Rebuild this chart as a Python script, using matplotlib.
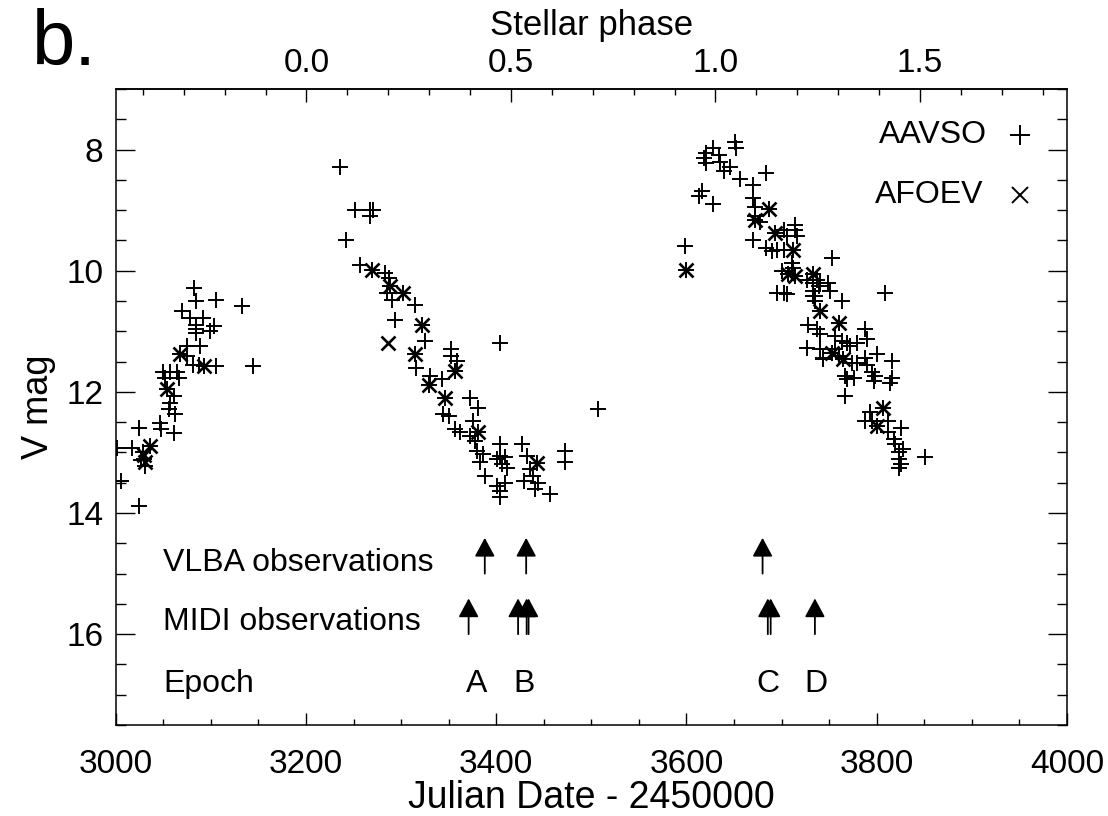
import matplotlib
matplotlib.use("Agg")
import matplotlib.pyplot as plt
from matplotlib.ticker import MultipleLocator, FixedLocator
import numpy as np

plt.rcParams['font.family'] = ['Liberation Sans', 'DejaVu Sans']

# Visual photometry (Julian Date - 2450000, V magnitude)
aavso_jd = [
    3001, 3017, 3006, 3025, 3025, 3029, 3030, 3031, 3027, 3036, 3047, 3048, 3061,
    3050, 3057, 3064, 3052, 3067, 3054, 3061, 3057, 3056, 3062, 3068, 3075, 3081,
    3088, 3075, 3089, 3070, 3078, 3092, 3084, 3084, 3084, 3103, 3099, 3082, 3084,
    3105, 3133, 3105, 3144, 3093,
    3236, 3252, 3267, 3271, 3267, 3242, 3257, 3269, 3283, 3287, 3288, 3285, 3302,
    3290, 3315, 3294, 3322, 3325, 3404, 3353, 3359, 3353, 3315, 3316, 3357, 3330,
    3343, 3329, 3346, 3372, 3381, 3344, 3350, 3376, 3357, 3362, 3381, 3372, 3378,
    3404, 3427, 3472, 3380, 3386, 3404, 3409, 3401, 3432, 3443, 3472, 3383, 3406,
    3411, 3436, 3439, 3388, 3409, 3401, 3429, 3444, 3441, 3457, 3404, 3404, 3507,
    3598, 3600, 3651, 3652, 3628, 3621, 3618, 3621, 3634, 3635, 3646, 3639, 3656,
    3684, 3670, 3616, 3613, 3628, 3670, 3672, 3672, 3677, 3670, 3687, 3672, 3693,
    3714, 3714, 3716, 3702, 3706, 3684, 3690, 3695, 3702, 3712, 3753, 3711, 3712,
    3700, 3707, 3714, 3733, 3727, 3733, 3739, 3733, 3740, 3737, 3735, 3749, 3751,
    3695, 3706, 3702, 3733, 3735, 3763, 3809, 3740, 3760, 3728, 3737, 3740, 3788,
    3727, 3740, 3744, 3744, 3756, 3763, 3769, 3772, 3779, 3790, 3756, 3760, 3774,
    3779, 3788, 3790, 3800, 3816, 3795, 3798, 3797, 3767, 3776, 3816, 3814, 3767,
    3769, 3753, 3765, 3793, 3788, 3795, 3812, 3826, 3812, 3818, 3819, 3828, 3823,
    3823, 3825, 3823, 3851, 3807, 3800,
]
aavso_mag = [
    12.92, 12.92, 13.47, 13.88, 12.59, 13.00, 13.10, 13.22, 13.12, 12.89, 12.51, 12.62, 12.68,
    11.68, 11.68, 11.68, 11.77, 11.77, 11.96, 12.07, 12.18, 12.29, 12.37, 11.37, 11.41, 11.55,
    11.55, 11.25, 11.25, 10.67, 10.78, 10.78, 10.90, 10.97, 11.03, 10.92, 11.00, 10.28, 10.50,
    10.48, 10.59, 11.57, 11.57, 11.58,
    8.28, 8.99, 8.99, 8.99, 9.10, 9.49, 9.90, 9.98, 10.04, 10.12, 10.26, 10.37, 10.37,
    10.48, 10.56, 10.81, 10.89, 11.16, 11.19, 11.30, 11.49, 11.41, 11.38, 11.60, 11.66, 11.74,
    11.79, 11.88, 12.10, 12.10, 12.26, 12.37, 12.40, 12.48, 12.62, 12.67, 12.67, 12.73, 12.81,
    12.86, 12.86, 12.98, 12.98, 13.03, 13.06, 13.08, 13.11, 13.06, 13.17, 13.16, 13.16, 13.19,
    13.25, 13.28, 13.39, 13.39, 13.50, 13.55, 13.47, 13.50, 13.61, 13.69, 13.63, 13.74, 12.29,
    9.59, 9.98, 7.87, 7.98, 7.98, 8.06, 8.14, 8.22, 8.09, 8.20, 8.28, 8.36, 8.49,
    8.38, 8.58, 8.69, 8.77, 8.89, 8.80, 8.94, 9.10, 9.19, 9.49, 8.98, 9.16, 9.38,
    9.24, 9.32, 9.43, 9.32, 9.43, 9.62, 9.68, 9.65, 9.65, 9.66, 9.79, 9.87, 9.95,
    10.00, 10.06, 10.09, 10.06, 10.15, 10.20, 10.26, 10.34, 10.20, 10.15, 10.42, 10.20, 10.34,
    10.37, 10.39, 10.37, 10.42, 10.50, 10.50, 10.37, 10.67, 10.86, 10.89, 10.97, 11.05, 10.97,
    11.27, 11.30, 11.46, 11.44, 11.08, 11.16, 11.19, 11.24, 11.19, 11.13, 11.30, 11.41, 11.52,
    11.52, 11.44, 11.55, 11.38, 11.49, 11.68, 11.74, 11.82, 11.74, 11.77, 11.77, 11.85, 12.07,
    11.79, 11.35, 11.46, 12.34, 12.48, 12.48, 12.48, 12.59, 12.67, 12.78, 12.86, 12.95, 13.00,
    13.11, 13.19, 13.25, 13.08, 12.26, 12.56,
]

afoev_jd = [
    3036, 3030, 3031, 3054, 3068, 3093,
    3269, 3288, 3302, 3322, 3286, 3315, 3357, 3329, 3346, 3381, 3443,
    3600, 3687, 3672, 3693, 3712, 3707, 3714, 3733, 3740, 3760, 3753, 3765, 3807, 3800,
]
afoev_mag = [
    12.89, 13.05, 13.15, 11.96, 11.37, 11.58,
    9.98, 10.26, 10.37, 10.89, 11.19, 11.38, 11.66, 11.88, 12.10, 12.67, 13.17,
    9.98, 8.98, 9.16, 9.38, 9.66, 10.06, 10.09, 10.06, 10.67, 10.86, 11.35, 11.46, 12.26, 12.56,
]

# Observation dates
vlba_jd = [3388, 3431.5, 3680]
midi_jd = [3371, 3423, 3432, 3434, 3685.5, 3688.5, 3735]
epoch_names = ['A', 'B', 'C', 'D']
epoch_jd = [3379, 3429.5, 3686, 3736.5]

# Stellar phase ephemeris
phase_zero_jd = 3200.5
period = 430.0

fig = plt.figure(figsize=(11.08, 8.16), dpi=100)
ax = fig.add_axes([0.1044, 0.1115, 0.8586, 0.7794])

ax.plot(aavso_jd, aavso_mag, linestyle='none', marker='+', color='black',
        markersize=12, markeredgewidth=1.4)
ax.plot(afoev_jd, afoev_mag, linestyle='none', marker='x', color='black',
        markersize=10, markeredgewidth=1.9)

ax.set_xlim(3000, 4000)
ax.set_ylim(17.5, 7.0)

# Observation arrows
arrow_kw = dict(arrowstyle='-|>,head_length=1.15,head_width=0.62', color='black',
                lw=1.3, shrinkA=0, shrinkB=0, mutation_scale=10)
for jd in vlba_jd:
    ax.annotate('', xy=(jd, 14.41), xytext=(jd, 15.0), arrowprops=arrow_kw)
for jd in midi_jd:
    ax.annotate('', xy=(jd, 15.41), xytext=(jd, 16.0), arrowprops=arrow_kw)

txt_size = 23
ax.text(3050, 14.83, 'VLBA observations', fontsize=txt_size, ha='left', va='center')
ax.text(3050, 15.80, 'MIDI observations', fontsize=txt_size, ha='left', va='center')
ax.text(3050, 16.83, 'Epoch', fontsize=txt_size, ha='left', va='center')
for name, jd in zip(epoch_names, epoch_jd):
    ax.text(jd, 16.83, name, fontsize=txt_size, ha='center', va='center')

# Symbol key
ax.text(3916, 7.76, 'AAVSO', fontsize=txt_size, ha='right', va='center')
ax.text(3912, 8.75, 'AFOEV', fontsize=txt_size, ha='right', va='center')
ax.plot([3951], [7.76], linestyle='none', marker='+', color='black',
        markersize=14, markeredgewidth=1.4)
ax.plot([3951], [8.75], linestyle='none', marker='x', color='black',
        markersize=11, markeredgewidth=1.4)

# Axes, ticks and labels
for s in ax.spines.values():
    s.set_linewidth(1.1)
ax.xaxis.set_major_locator(MultipleLocator(200))
ax.xaxis.set_minor_locator(MultipleLocator(50))
ax.yaxis.set_major_locator(MultipleLocator(2))
ax.yaxis.set_minor_locator(MultipleLocator(0.5))
ax.tick_params(axis='x', which='both', direction='in', top=False, bottom=True,
               labelsize=24, pad=17, width=1.0)
ax.tick_params(axis='x', which='major', length=9)
ax.tick_params(axis='x', which='minor', length=4.6)
ax.tick_params(axis='y', which='both', direction='in', left=True, right=True,
               labelsize=24, pad=9, width=1.0)
ax.tick_params(axis='y', which='major', length=13.7)
ax.tick_params(axis='y', which='minor', length=7.2)
ax.set_xlabel('Julian Date - 2450000', fontsize=27, labelpad=0)
ax.set_ylabel('V mag', fontsize=26, labelpad=7)


def jd_to_phase(jd):
    return (np.asarray(jd, dtype=float) - phase_zero_jd) / period


def phase_to_jd(ph):
    return np.asarray(ph, dtype=float) * period + phase_zero_jd


sec = ax.secondary_xaxis('top', functions=(jd_to_phase, phase_to_jd))
sec.xaxis.set_major_locator(FixedLocator([0.0, 0.5, 1.0, 1.5]))
sec.xaxis.set_minor_locator(MultipleLocator(0.1))
sec.xaxis.set_major_formatter(plt.FormatStrFormatter('%.1f'))
sec.tick_params(axis='x', which='both', direction='in', labelsize=24, pad=7.5, width=1.0)
sec.tick_params(axis='x', which='major', length=9)
sec.tick_params(axis='x', which='minor', length=4.6)
sec.spines['top'].set_linewidth(1.1)
sec.set_xlabel('Stellar phase', fontsize=25, labelpad=9)

fig.text(0.029, 0.92, 'b.', fontsize=56, ha='left', va='baseline')

fig.savefig('out.png', dpi=100)
